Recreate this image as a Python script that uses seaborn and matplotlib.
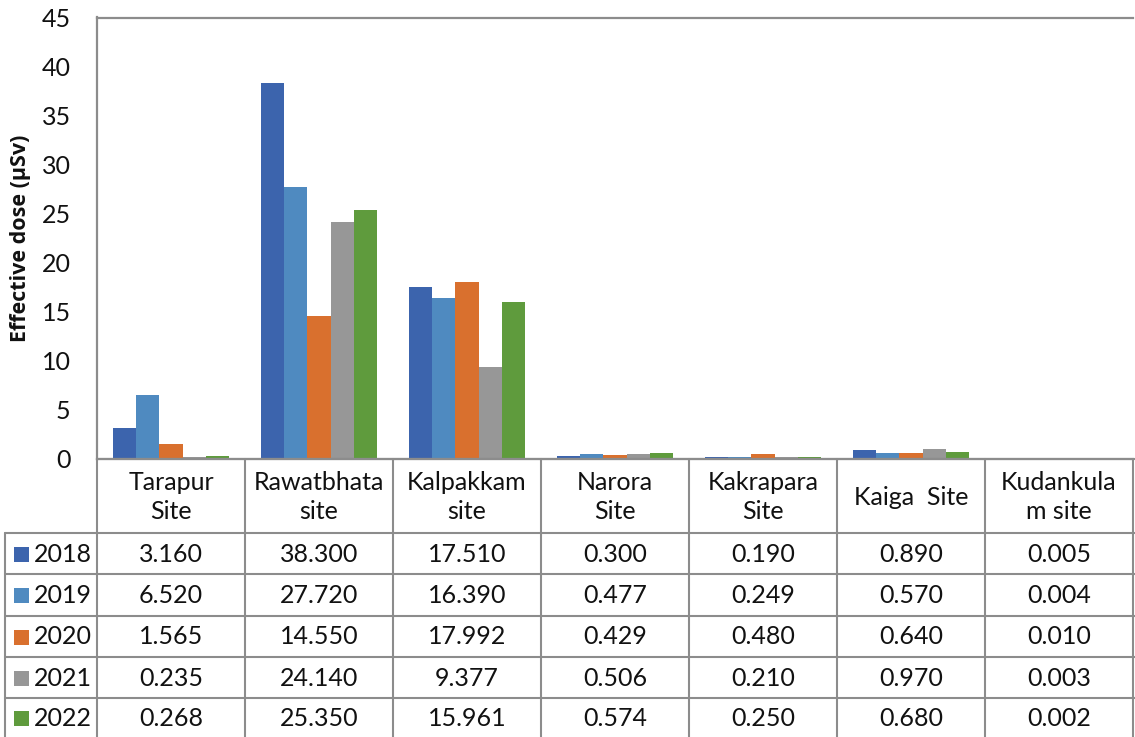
import matplotlib
matplotlib.use("Agg")
import matplotlib.pyplot as plt
import seaborn as sns
import pandas as pd
import numpy as np

# ---- data ----
sites = ["Tarapur\nSite", "Rawatbhata\nsite", "Kalpakkam\nsite", "Narora\nSite",
         "Kakrapara\nSite", "Kaiga  Site", "Kudankula\nm site"]
years = ["2018", "2019", "2020", "2021", "2022"]
v2018 = [3.160, 38.300, 17.510, 0.300, 0.190, 0.890, 0.005]
v2019 = [6.520, 27.720, 16.390, 0.477, 0.249, 0.570, 0.004]
v2020 = [1.565, 14.550, 17.992, 0.429, 0.480, 0.640, 0.010]
v2021 = [0.235, 24.140, 9.377, 0.506, 0.210, 0.970, 0.003]
v2022 = [0.268, 25.350, 15.961, 0.574, 0.250, 0.680, 0.002]
yticks = [0, 5, 10, 15, 20, 25, 30, 35, 40, 45]
colors = ["#3C64AD", "#4F8AC0", "#D9702E", "#979797", "#5F9B3D"]

series = [v2018, v2019, v2020, v2021, v2022]
df = pd.DataFrame([
    {"site": s, "year": y, "value": v}
    for y, vals in zip(years, series) for s, v in zip(sites, vals)
])

sns.set_theme(style="white")
plt.rcParams["font.family"] = ["Lato", "DejaVu Sans"]

FS = 18
W, H = 1135, 737
fig = plt.figure(figsize=(W / 100, H / 100), dpi=100)
fig.patch.set_facecolor("white")

# plot area in pixel coords
L, R, T, B = 97, 1133, 17.5, 459
ax = fig.add_axes([L / W, (H - B) / H, (R - L) / W, (B - T) / H])
sns.barplot(data=df, x="site", y="value", hue="year", palette=colors,
            width=0.78, gap=0, linewidth=0, saturation=1, ax=ax, legend=False)
ax.set_ylim(0, 45)
ax.set_xlim(-0.5, len(sites) - 0.5)
ax.set_yticks(yticks)
ax.set_yticklabels([str(t) for t in yticks], fontsize=FS, color="#111111")
ax.tick_params(axis="y", length=0, pad=19)
ax.set_xticks([])
ax.set_xlabel("")
ax.set_ylabel("Effective dose (µSv)", fontsize=15.5, fontweight="bold",
              family=["Open Sans", "DejaVu Sans"], color="#111111")
ax.yaxis.set_label_coords(-0.064, 0.5)
for side in ["left", "top", "bottom"]:
    ax.spines[side].set_color("#8C8C8C")
    ax.spines[side].set_linewidth(1.6)
ax.spines["right"].set_visible(False)

# ---- data table overlay ----
tab = fig.add_axes([0, 0, 1, 1], facecolor="none")
tab.set_xlim(0, W)
tab.set_ylim(H, 0)
tab.axis("off")
lc = "#8C8C8C"
lw = 1.5
colw = (R - L) / len(sites)
row_tops = [533, 574, 615.5, 656.5, 698]
legend_left = 5
# vertical lines
tab.plot([L, L], [B, H], color=lc, lw=lw)
for i in range(1, len(sites) + 1):
    x = L + i * colw
    tab.plot([x, x], [B, H], color=lc, lw=lw)
tab.plot([legend_left, legend_left], [row_tops[0], H], color=lc, lw=lw)
# horizontal lines
for y in row_tops:
    tab.plot([legend_left, W], [y, y], color=lc, lw=lw)
tab.plot([L, W], [B, B], color=lc, lw=lw)

# header text
for i, s in enumerate(sites):
    tab.text(L + (i + 0.5) * colw, (B + row_tops[0]) / 2 + 1, s, ha="center",
             va="center", fontsize=FS, color="#111111", linespacing=1.35)
# rows
row_bounds = row_tops + [H]
for r, (y, vals, c) in enumerate(zip(years, series, colors)):
    yc = (row_bounds[r] + row_bounds[r + 1]) / 2 + 1
    tab.add_patch(plt.Rectangle((14, yc - 7.5), 15, 15, color=c, lw=0))
    tab.text(34, yc, y, ha="left", va="center", fontsize=FS, color="#111111")
    for i, v in enumerate(vals):
        tab.text(L + (i + 0.5) * colw, yc, f"{v:.3f}", ha="center",
                 va="center", fontsize=FS, color="#111111")

fig.savefig("out.png", dpi=100, facecolor="white")
